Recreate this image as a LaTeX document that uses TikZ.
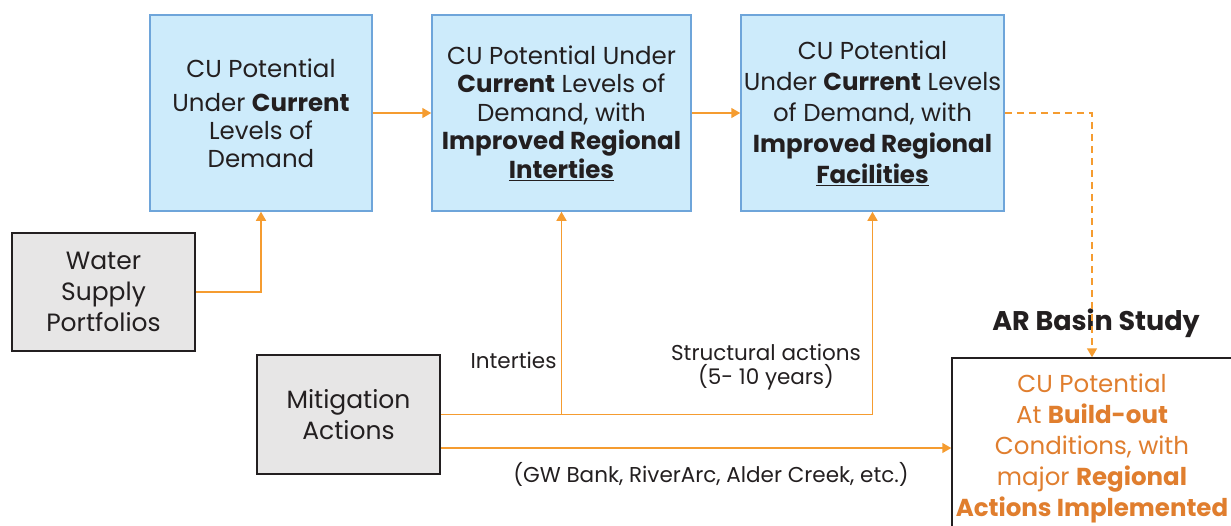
\documentclass[tikz,border=0pt]{standalone}
\usepackage{fontspec}
\setmainfont{Poppins}
\usetikzlibrary{arrows.meta}
\definecolor{flow}{RGB}{245,156,48}
\definecolor{bluefill}{RGB}{205,235,251}
\definecolor{blueline}{RGB}{110,165,218}
\definecolor{greyfill}{RGB}{231,230,230}
\definecolor{ink}{RGB}{35,31,32}
\definecolor{buildout}{RGB}{224,126,46}
\begin{document}
\begin{tikzpicture}[x=1pt, y=-1pt,
 stage/.style={draw=blueline, line width=1.5pt, fill=bluefill, align=center, text=ink, inner sep=0pt},
 input/.style={draw=ink, line width=1.5pt, fill=greyfill, align=center, text=ink, inner sep=0pt,
   minimum width=183pt, minimum height=118pt, font=\fontsize{25}{31}\selectfont},
 goal/.style={draw=ink, line width=1.5pt, fill=white, align=center, text=buildout, inner sep=0pt},
 note/.style={text=ink, align=center, font=\fontsize{21.5}{24}\selectfont},
 link/.style={draw=flow, line width=1.5pt, -{Triangle[width=10pt,length=9pt]}}
]
\useasboundingbox (0,0) rectangle (1231,525);
\path [clip] (0,0) rectangle (1231,525);

% current demand stages
\node (now) at (261,113) [stage, minimum width=222pt, minimum height=196pt,
  font=\fontsize{24.5}{28}\selectfont]
  {CU Potential\\[6pt] Under \textbf{Current}\\ Levels of\\ Demand};
\node (ties) at (561.5,113) [stage, minimum width=259pt, minimum height=196pt,
  font=\fontsize{24.5}{28.5}\selectfont]
  {CU Potential Under\\ \textbf{Current} Levels of\\ Demand, with\\
   \textbf{Improved Regional}\\ \textbf{\underline{Interties}}};
\node (facil) at (872.5,113) [stage, minimum width=263pt, minimum height=196pt,
  font=\fontsize{24.5}{31}\selectfont]
  {CU Potential\\ Under \textbf{Current} Levels\\ of Demand, with\\
   \textbf{Improved Regional}\\ \textbf{\underline{Facilities}}};

% inputs
\node (water) at (103.5,292) [input] {Water\\ Supply\\ Portfolios};
\node (mitig) at (348.5,414.5) [input, minimum height=119pt] {Mitigation\\ Actions};

% build-out
\node (build) at (1092,448) [goal, minimum width=280pt, minimum height=180pt,
  font=\fontsize{24.5}{31}\selectfont]
  {CU Potential\\ At \textbf{Build-out}\\ Conditions, with\\
   major \textbf{Regional}\\ \textbf{Actions Implemented}};
\node (study) at (1096,323) [text=ink, font=\fontsize{27}{30}\selectfont\bfseries] {AR Basin Study};

% connectors
\draw[link] (now) -- (ties);
\draw[link] (ties) -- (facil);
\draw[link, dashed, dash pattern=on 7pt off 5pt] (facil.east) -| (build.north);
\draw[link] (water.east) -| (now.south);
\draw[link] (mitig.east) -| (facil.south);
\draw[link] (ties.south |- mitig.east) -- (ties.south);
\draw[link] (mitig.east |- build.west) -- (build.west);

% labels
\node (tieslbl) at (560,360) [note, anchor=east] {Interties};
\node (structlbl) at (766,367) [note] {Structural actions\\ (5- 10 years)};
\node (banklbl) at (711,474) [note] {(GW Bank, RiverArc, Alder Creek, etc.)};

\end{tikzpicture}
\end{document}
